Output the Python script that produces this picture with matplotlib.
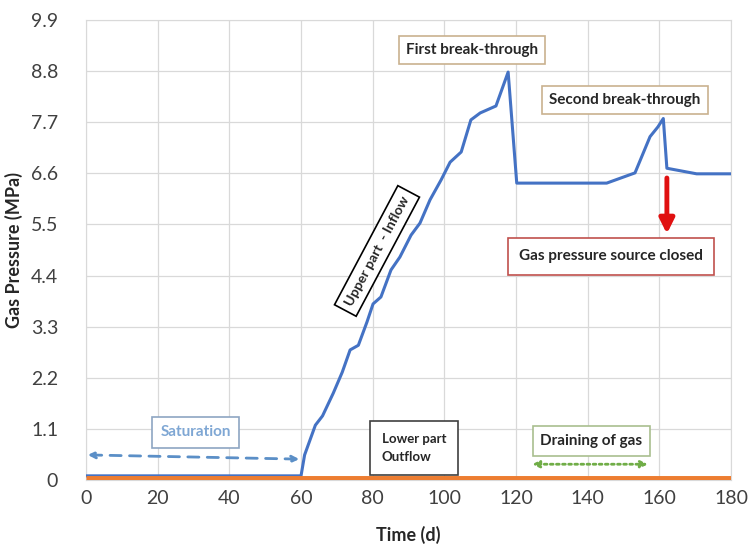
import matplotlib
matplotlib.use("Agg")
import matplotlib.pyplot as plt
import numpy as np

plt.rcParams['font.family'] = ['Lato', 'DejaVu Sans']

# upper part - inflow (blue)
time_up = [0, 60, 61, 64, 66, 69, 71.5, 73.7, 76, 78.4, 80.1, 82.3, 85.1, 87.6,
           90.7, 93.2, 96, 99.1, 101.6, 104.7, 107.4, 110, 114.4, 117.8,
           120.2, 145.3, 153.2, 157.4, 159.6, 161.1, 162.1, 170.4, 180]
press_up = [0.09, 0.09, 0.54, 1.18, 1.38, 1.87, 2.32, 2.8, 2.9, 3.4, 3.79, 3.94,
            4.52, 4.8, 5.27, 5.53, 6.03, 6.46, 6.84, 7.06, 7.75, 7.9, 8.05, 8.78,
            6.39, 6.39, 6.61, 7.39, 7.6, 7.78, 6.71, 6.59, 6.59]

# lower part - outflow (orange)
time_low = [0, 180]
press_low = [0.03, 0.03]

x_ticks = list(range(0, 181, 20))
y_ticks = [0, 1.1, 2.2, 3.3, 4.4, 5.5, 6.6, 7.7, 8.8, 9.9]
y_tick_labels = ['0', '1.1', '2.2', '3.3', '4.4', '5.5', '6.6', '7.7', '8.8', '9.9']

fig = plt.figure(figsize=(7.5, 5.44), dpi=100)
ax = fig.add_axes([0.1147, 0.1176, 0.86, 0.8456])

ax.plot(time_up, press_up, color='#4472C4', linewidth=2.2, zorder=3)
ax.plot(time_low, press_low, color='#ED7D31', linewidth=5, solid_capstyle='butt', zorder=4)

ax.set_xlim(0, 180)
ax.set_ylim(0, 9.9)
ax.set_xticks(x_ticks)
ax.set_yticks(y_ticks)
ax.set_yticklabels(y_tick_labels)
ax.grid(True, color='#d9d9d9', linewidth=0.9)
ax.set_axisbelow(True)
for s in ax.spines.values():
    s.set_color('#d9d9d9')
ax.tick_params(axis='x', length=0, labelsize=14, colors='#404040', pad=7)
ax.tick_params(axis='y', length=0, labelsize=14, colors='#404040', pad=20)
ax.set_xlabel('Time (d)', fontsize=13, fontweight='bold', color='#262626', labelpad=14)
ax.set_ylabel('Gas Pressure (MPa)', fontsize=13, fontweight='bold', color='#262626', labelpad=6)

def box_text(x, y, s, edge, color='#262626', size=11, rot=0, ha='center', pad=0.45):
    ax.text(x, y, s, ha=ha, va='center', fontsize=size, fontweight='bold', color=color,
            rotation=rot, rotation_mode='anchor' if rot else 'default', zorder=6,
            bbox=dict(boxstyle='square,pad=%s' % pad, facecolor='white', edgecolor=edge, linewidth=1.2))

box_text(107.7, 9.26, 'First break-through', '#c9b18f')
box_text(150.4, 8.18, 'Second break-through', '#c9b18f')
box_text(146.5, 4.82, 'Gas pressure source closed', '#c0504d', pad=0.75)
box_text(81.2, 4.93, 'Upper part  - Inflow', 'black', rot=62, size=10)
box_text(30.6, 1.03, 'Saturation', '#8ea5c2', color='#7fa7d4', pad=0.55)
ax.text(82.5, 0.69, 'Lower part\nOutflow', ha='left', va='center', fontsize=9.5, fontweight='bold',
        color='#262626', zorder=6, linespacing=1.6,
        bbox=dict(boxstyle='square,pad=0.9', facecolor='white', edgecolor='#404040', linewidth=1.2))
box_text(141, 0.84, 'Draining of gas', '#a9bf8f', pad=0.5)

# arrows
ax.annotate('', xy=(0.5, 0.54), xytext=(59.5, 0.45),
            arrowprops=dict(arrowstyle='<|-|>', linestyle=(0, (4, 3)), color='#5b8fc7',
                            linewidth=2, mutation_scale=10, shrinkA=0, shrinkB=0), zorder=5)
ax.annotate('', xy=(124.5, 0.34), xytext=(156.8, 0.34),
            arrowprops=dict(arrowstyle='<|-|>', linestyle=(0, (1, 1.2)), color='#70ad47',
                            linewidth=2, mutation_scale=10, shrinkA=0, shrinkB=0), zorder=5)
ax.annotate('', xy=(162.1, 5.3), xytext=(162.1, 6.5),
            arrowprops=dict(arrowstyle='-|>', color='#e01010', linewidth=3.5,
                            mutation_scale=22, shrinkA=0, shrinkB=0), zorder=5)

fig.savefig('out.png', dpi=100, facecolor='white')
